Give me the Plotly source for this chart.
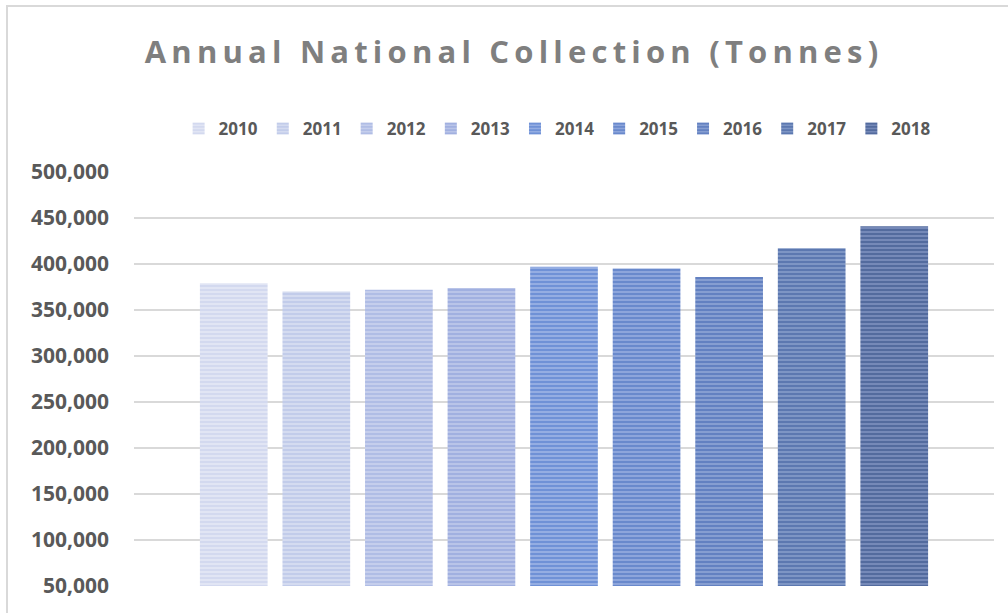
import plotly.graph_objects as go

years = ["2010", "2011", "2012", "2013", "2014", "2015", "2016", "2017", "2018"]
tonnes = [379000, 370000, 372000, 374000, 397000, 395000, 386000, 417000, 441000]
stripe_colors = ["#c0c9e8", "#aab8e2", "#94a6dc", "#8196d5", "#3f6cc6", "#3a64b9", "#355cab", "#2f5196", "#27447e"]
base_colors = ["#e6e9f6", "#dae0f2", "#ccd4ee", "#c0cbea", "#9fb6e6", "#98aedf", "#91a7d6", "#889ecb", "#7f92bf"]
tick_vals = [50000, 100000, 150000, 200000, 250000, 300000, 350000, 400000, 450000, 500000]
tick_text = ["50,000", "100,000", "150,000", "200,000", "250,000", "300,000", "350,000", "400,000", "450,000", "500,000"]

category = ["Annual"]

fig = go.Figure()
for yr, val, fg, bg in zip(years, tonnes, stripe_colors, base_colors):
    fig.add_trace(go.Bar(
        x=category, y=[val], name=yr,
        marker=dict(
            color=bg,
            line=dict(width=0),
            pattern=dict(shape="-", fgcolor=fg, bgcolor=bg, size=4, solidity=0.62, fillmode="overlay"),
        ),
    ))

fig.update_layout(
    width=1008, height=613,
    paper_bgcolor="white", plot_bgcolor="white",
    margin=dict(l=134, r=14, t=172, b=27),
    barmode="group", bargap=0.136, bargroupgap=0.18,
    font=dict(family="Open Sans", color="#595959"),
    title=dict(
        text="<b>Annual National Collection (Tonnes)</b>",
        x=0.51, xanchor="center", y=1 - 52 / 613, yanchor="middle",
        font=dict(size=31, color="#7f7f7f", family="Open Sans"),
    ),
    legend=dict(
        orientation="h", x=0.492, xanchor="center", y=1.104, yanchor="middle",
        font=dict(size=17, color="#595959", family="Open Sans", weight="bold"),
        itemwidth=30, traceorder="normal",
    ),
    showlegend=True,
)
fig.update_xaxes(showticklabels=False, showgrid=False, zeroline=False, showline=False)
fig.update_yaxes(
    range=[50000, 500000], tickvals=tick_vals, ticktext=tick_text,
    showgrid=True, gridcolor="#d9d9d9", gridwidth=1.5, zeroline=False, showline=False,
    tickfont=dict(size=21, color="#595959", family="Open Sans", weight="bold"),
    ticklabelstandoff=24,
)
# chart border (Excel chart area frame)
fig.add_shape(type="rect", xref="paper", yref="paper",
              x0=(7 - 134) / 860, x1=(1030 - 134) / 860,
              y0=(586 - 640) / 414, y1=(586 - 6) / 414,
              line=dict(color="#d9d9d9", width=2), fillcolor="rgba(0,0,0,0)", layer="below")

css_js = (
    "var s=document.createElement('style');"
    "s.textContent='body{margin:0 !important;} .gtitle{letter-spacing:5.2px;}';"
    "document.head.appendChild(s);"
)
fig.write_html("out.html", post_script=css_js, config={"displayModeBar": False})
